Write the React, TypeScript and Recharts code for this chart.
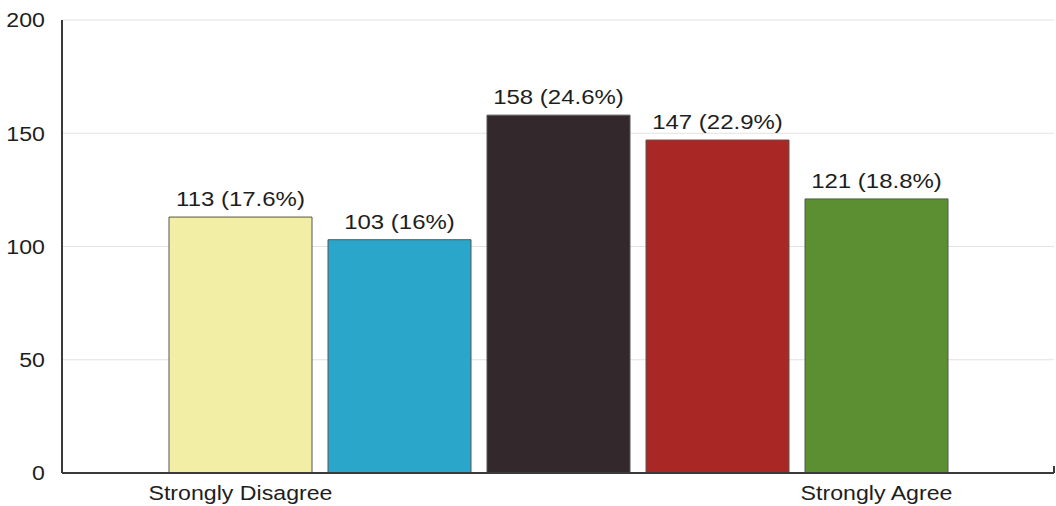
import * as Recharts from 'recharts';
import { BarChart, Bar, XAxis, YAxis, CartesianGrid, Cell, LabelList } from 'recharts';

// Likert scale responses (1 = Strongly Disagree ... 5 = Strongly Agree)
const levels = [1, 2, 3, 4, 5];
const levelLabels = ['Strongly Disagree', '', '', '', 'Strongly Agree'];
const responses = [113, 103, 158, 147, 121];
const barColors = ['#f3eea6', '#2ba6cb', '#33292d', '#a92825', '#5c8f32'];
const yTicks = [0, 50, 100, 150, 200];

const FONT = '"Liberation Sans", Arial, Helvetica, sans-serif';
const TEXT_COLOR = '#1e1e1e';
const AXIS_COLOR = '#3a3a3a';
const STRETCH = 1.13;

const total = responses.reduce((sum, v) => sum + v, 0);

const data = levels.map((level, i) => ({
  level,
  count: responses[i],
  pct: Math.round((responses[i] / total) * 1000) / 10,
}));

const YTick = ({ x, y, payload }: any) => (
  <text
    transform={`translate(${x},${y}) scale(${STRETCH},1)`}
    textAnchor="end"
    dy="0.36em"
    fontFamily={FONT}
    fontSize={20.5}
    fill={TEXT_COLOR}
  >
    {payload.value}
  </text>
);

const XTick = ({ x, y, payload }: any) => {
  const label = levelLabels[levels.indexOf(payload.value)];
  if (!label) return null;
  return (
    <text
      transform={`translate(${x},${y + 27}) scale(${STRETCH},1)`}
      textAnchor="middle"
      fontFamily={FONT}
      fontSize={20.5}
      fill={TEXT_COLOR}
    >
      {label}
    </text>
  );
};

const BarValue = ({ x, y, width, index }: any) => {
  const d = data[index];
  return (
    <text
      transform={`translate(${x + width / 2},${y - 11}) scale(1.17,1)`}
      textAnchor="middle"
      fontFamily={FONT}
      fontSize={20.5}
      fill={TEXT_COLOR}
    >
      {`${d.count} (${d.pct}%)`}
    </text>
  );
};

// little closing tick at the right end of the x axis
function AxisEndTick() {
  const usePlotArea = (Recharts as any).usePlotArea;
  const area = usePlotArea ? usePlotArea() : undefined;
  if (!area) return null;
  const right = area.x + area.width;
  const bottom = area.y + area.height;
  return (
    <line x1={right} x2={right} y1={bottom - 7} y2={bottom} stroke={AXIS_COLOR} strokeWidth={2} />
  );
}

export default function App() {
  return (
    <div style={{ position: 'absolute', left: 0, top: 0, background: '#fff' }}>
      <BarChart
        width={1056}
        height={506}
        data={data}
        margin={{ top: 20, right: 2, bottom: 0, left: 0 }}
      >
        <CartesianGrid vertical={false} stroke="#e2e2e2" />
        <XAxis
          dataKey="level"
          interval={0}
          padding={{ left: 99, right: 98 }}
          height={33}
          tickLine={false}
          tickSize={0}
          tickMargin={0}
          axisLine={{ stroke: AXIS_COLOR, strokeWidth: 2 }}
          tick={<XTick />}
        />
        <YAxis
          width={62}
          domain={[0, 200]}
          ticks={yTicks}
          tickLine={false}
          tickSize={0}
          tickMargin={17}
          axisLine={{ stroke: AXIS_COLOR, strokeWidth: 2 }}
          tick={<YTick />}
        />
        <Bar dataKey="count" barSize={143} stroke="#555" strokeWidth={1} isAnimationActive={false}>
          {data.map((d, i) => (
            <Cell key={`cell-${d.level}`} fill={barColors[i]} />
          ))}
          <LabelList dataKey="count" content={<BarValue />} />
        </Bar>
        <AxisEndTick />
      </BarChart>
    </div>
  );
}
